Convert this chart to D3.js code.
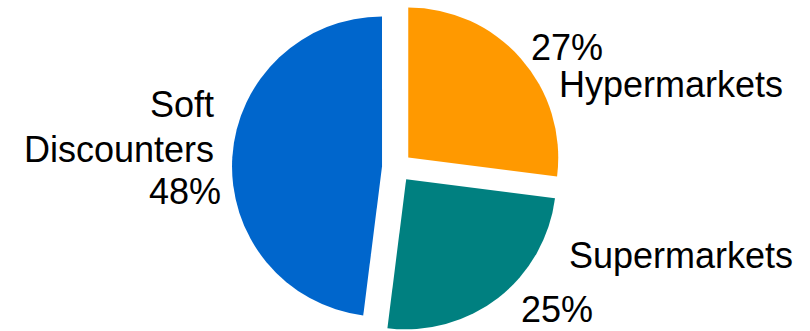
<!DOCTYPE html>
<html>
<head>
<meta charset="utf-8">
<script src="https://cdn.jsdelivr.net/npm/d3@7"></script>
<style>
  html, body { margin: 0; padding: 0; background: #fff; }
  svg { display: block; }
  text { font-family: "Liberation Sans", Arial, sans-serif; font-size: 36px; fill: #000; }
</style>
</head>
<body>
<svg id="chart" width="810" height="331"></svg>
<script>
const categories = ["Hypermarkets", "Supermarkets", "Soft Discounters"];
const values = [27, 25, 48];
const colors = ["#FF9900", "#008080", "#0066CC"];

const width = 810, height = 331;
const cx = 397, cy = 167.5, radius = 150, explode = 15;

const svg = d3.select("#chart");
const pie = d3.pie().sort(null).startAngle(0).endAngle(2 * Math.PI)(values);
const arc = d3.arc().innerRadius(0).outerRadius(radius);

const g = svg.append("g").attr("transform", `translate(${cx},${cy})`);
g.selectAll("path").data(pie).join("path")
  .attr("d", arc)
  .attr("fill", (d, i) => colors[i])
  .attr("transform", d => {
    const a = (d.startAngle + d.endAngle) / 2;
    return `translate(${explode * Math.sin(a)},${-explode * Math.cos(a)})`;
  });

// label layout (line positions in pixels), separate from data
const labelLines = [
  [{t: values[0] + "%", x: 531, y: 60, a: "start"}, {t: categories[0], x: 559, y: 97, a: "start"}],
  [{t: categories[1], x: 569, y: 268, a: "start"}, {t: values[1] + "%", x: 521, y: 322, a: "start"}],
  [{t: "Soft", x: 214, y: 117, a: "end"}, {t: "Discounters", x: 214, y: 162, a: "end"}, {t: values[2] + "%", x: 221, y: 204, a: "end"}]
];
labelLines.forEach(lines => {
  lines.forEach(l => {
    svg.append("text").attr("x", l.x).attr("y", l.y).attr("text-anchor", l.a).text(l.t);
  });
});
</script>
</body>
</html>
